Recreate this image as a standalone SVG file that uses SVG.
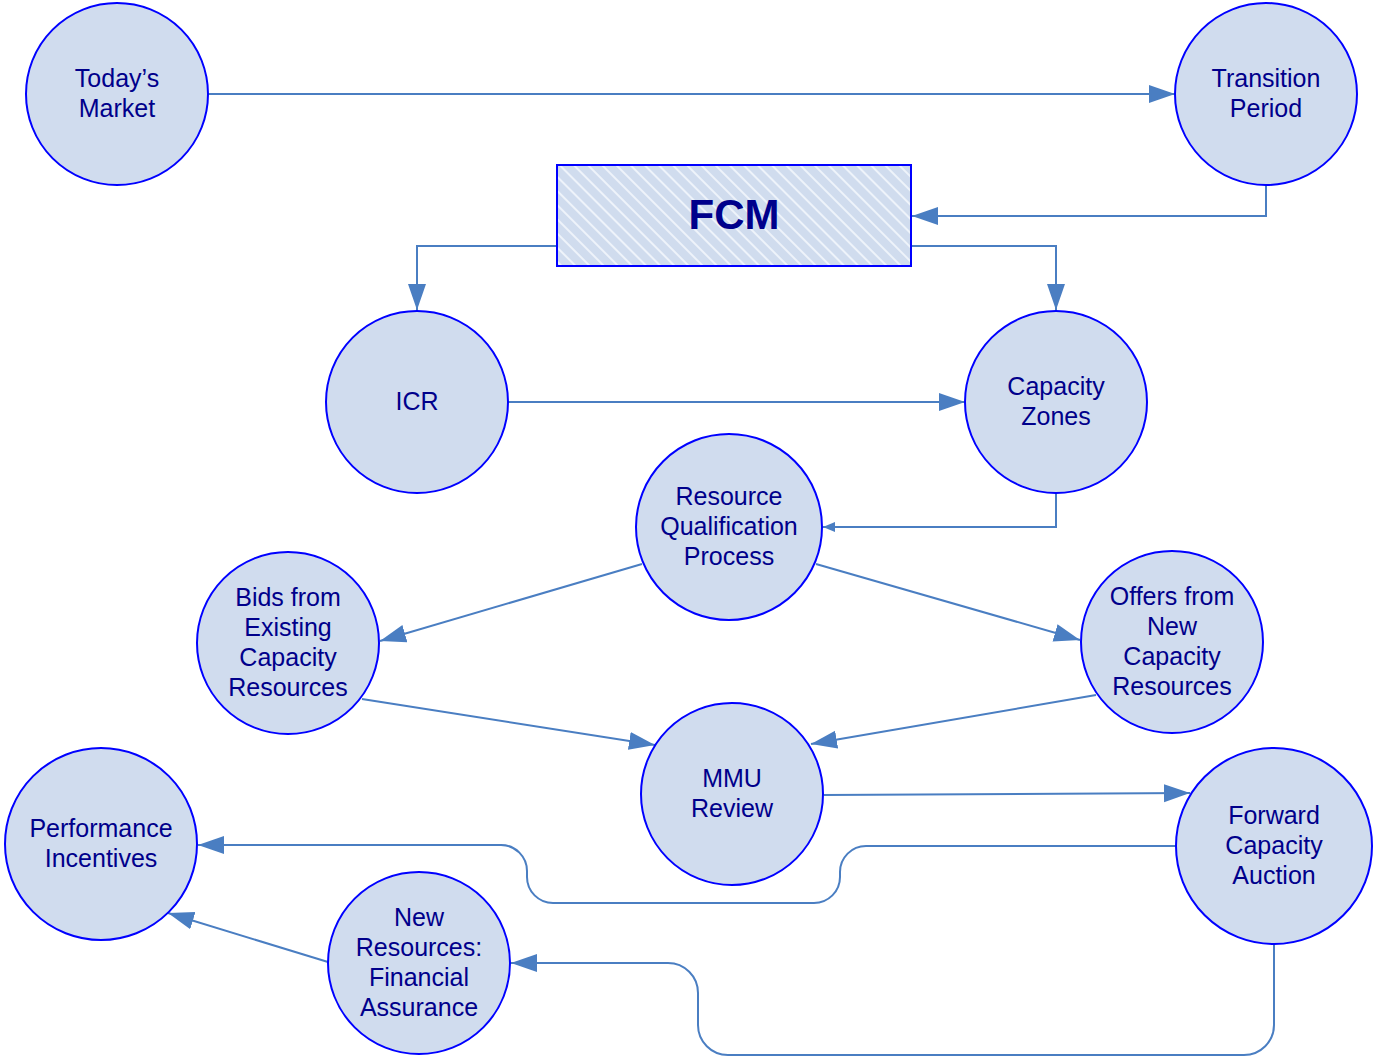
<svg xmlns="http://www.w3.org/2000/svg" width="1374" height="1059" viewBox="0 0 1374 1059">
<style>
.node{fill:#D0DCEE;stroke:#0000FF;stroke-width:2}
.lbl{font-family:"Liberation Sans",Arial,sans-serif;font-size:25px;fill:#00008B;text-anchor:middle}
.ttl{font-family:"Liberation Sans",Arial,sans-serif;font-size:42px;font-weight:bold;fill:#00008B;text-anchor:middle}
.con{fill:none;stroke:#4A7EC2;stroke-width:2;marker-end:url(#ah)}
.con.sm{marker-end:url(#ahs)}
</style>
<defs>
<marker id="ah" markerUnits="userSpaceOnUse" markerWidth="28" markerHeight="20" refX="26" refY="9" orient="auto">
<path d="M0,0 L26,9 L0,18 z" fill="#4A7EC2"/>
</marker>
<marker id="ahs" markerUnits="userSpaceOnUse" markerWidth="14" markerHeight="12" refX="12" refY="5" orient="auto">
<path d="M0,0 L12,5 L0,10 z" fill="#4A7EC2"/>
</marker>
<pattern id="hatch" patternUnits="userSpaceOnUse" width="10" height="10" patternTransform="rotate(45)">
<rect width="10" height="10" fill="#D0DCEE"/>
<rect x="0" y="0" width="10" height="2" fill="#EEF3FA"/>
</pattern>
</defs>
<g id="connectors">
<path class="con" d="M208,94 H1175"/>
<path class="con" d="M1266,185 V216 H912"/>
<path class="con" d="M557,246 H417 V310"/>
<path class="con" d="M911,246 H1056 V310"/>
<path class="con" d="M508,402 H965"/>
<path class="con sm" d="M1056,493 V527 H823"/>
<path class="con" d="M642,564 L380,641"/>
<path class="con" d="M816,564 L1080,640"/>
<path class="con" d="M362,699 L655,745"/>
<path class="con" d="M1096,695 L811,744"/>
<path class="con" d="M824,795 L1190,793"/>
<path class="con" d="M1176,846 H866 A26,26 0 0 0 840,872 V877 A26,26 0 0 1 814,903 H553 A26,26 0 0 1 527,877 V871 A26,26 0 0 0 501,845 H198"/>
<path class="con" d="M1274,944 V1025 A30,30 0 0 1 1244,1055 H728 A30,30 0 0 1 698,1025 V993 A30,30 0 0 0 668,963 H511"/>
<path class="con" d="M328,962 L168,913"/>
</g>
<g id="todays-market"><circle class="node" cx="117" cy="94" r="91"/><text class="lbl"><tspan x="117" y="87">Today’s</tspan><tspan x="117" y="117">Market</tspan></text></g>
<g id="transition-period"><circle class="node" cx="1266" cy="94" r="91"/><text class="lbl"><tspan x="1266" y="87">Transition</tspan><tspan x="1266" y="117">Period</tspan></text></g>
<g id="fcm"><rect x="557" y="165" width="354" height="101" fill="url(#hatch)" stroke="#0000FF" stroke-width="2"/><text class="ttl" x="734" y="229">FCM</text></g>
<g id="icr"><circle class="node" cx="417" cy="402" r="91"/><text class="lbl" x="417" y="410">ICR</text></g>
<g id="capacity-zones"><circle class="node" cx="1056" cy="402" r="91"/><text class="lbl"><tspan x="1056" y="395">Capacity</tspan><tspan x="1056" y="425">Zones</tspan></text></g>
<g id="resource-qualification"><circle class="node" cx="729" cy="527" r="93"/><text class="lbl"><tspan x="729" y="505">Resource</tspan><tspan x="729" y="535">Qualification</tspan><tspan x="729" y="565">Process</tspan></text></g>
<g id="bids-existing"><circle class="node" cx="288" cy="643" r="91"/><text class="lbl"><tspan x="288" y="606">Bids from</tspan><tspan x="288" y="636">Existing</tspan><tspan x="288" y="666">Capacity</tspan><tspan x="288" y="696">Resources</tspan></text></g>
<g id="offers-new"><circle class="node" cx="1172" cy="642" r="91"/><text class="lbl"><tspan x="1172" y="605">Offers from</tspan><tspan x="1172" y="635">New</tspan><tspan x="1172" y="665">Capacity</tspan><tspan x="1172" y="695">Resources</tspan></text></g>
<g id="mmu-review"><circle class="node" cx="732" cy="794" r="91"/><text class="lbl"><tspan x="732" y="787">MMU</tspan><tspan x="732" y="817">Review</tspan></text></g>
<g id="performance-incentives"><circle class="node" cx="101" cy="844" r="96"/><text class="lbl"><tspan x="101" y="837">Performance</tspan><tspan x="101" y="867">Incentives</tspan></text></g>
<g id="forward-capacity-auction"><circle class="node" cx="1274" cy="846" r="98"/><text class="lbl"><tspan x="1274" y="824">Forward</tspan><tspan x="1274" y="854">Capacity</tspan><tspan x="1274" y="884">Auction</tspan></text></g>
<g id="new-resources"><circle class="node" cx="419" cy="963" r="91"/><text class="lbl"><tspan x="419" y="926">New</tspan><tspan x="419" y="956">Resources:</tspan><tspan x="419" y="986">Financial</tspan><tspan x="419" y="1016">Assurance</tspan></text></g>
</svg>
